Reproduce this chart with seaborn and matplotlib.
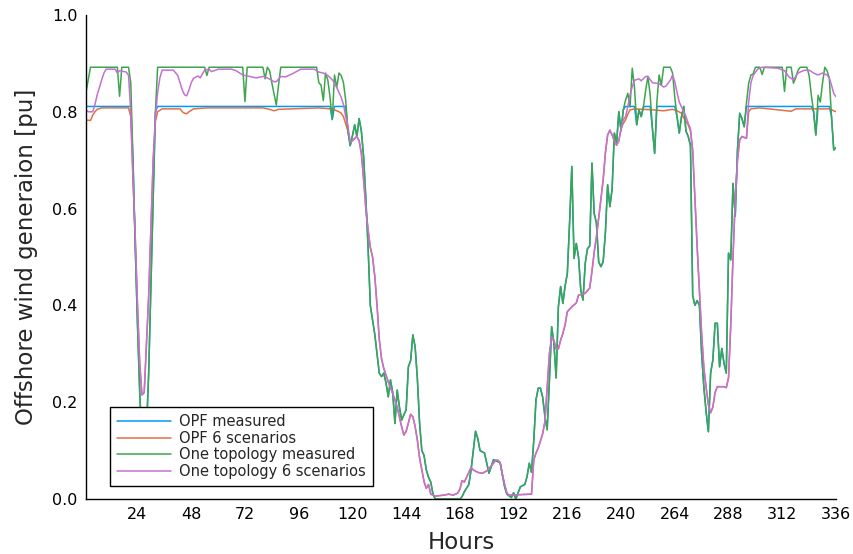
import matplotlib
matplotlib.use("Agg")
import matplotlib.pyplot as plt
import seaborn as sns
import pandas as pd

# (hour, value in pu)
opf_measured = [
    (1, 0.811), (21, 0.811), (22, 0.70), (23, 0.52), (24, 0.36), (25, 0.22), (26, 0.12),
    (27, 0.10), (28, 0.14), (29, 0.26), (30, 0.44), (31, 0.62), (32, 0.80), (33, 0.811),
    (110, 0.811), (111, 0.784), (112, 0.811), (117, 0.811), (118, 0.76), (119, 0.73),
    (120, 0.75), (121, 0.773), (122, 0.749), (123, 0.786), (124, 0.76), (125, 0.707),
    (126, 0.62), (127, 0.52), (128, 0.40), (129, 0.37), (130, 0.34), (131, 0.30), (132, 0.26),
    (133, 0.253), (134, 0.26), (135, 0.24), (136, 0.211), (137, 0.246), (138, 0.22),
    (139, 0.156), (140, 0.225), (141, 0.19), (142, 0.163), (143, 0.174), (144, 0.184),
    (145, 0.273), (146, 0.286), (147, 0.339), (148, 0.315), (149, 0.25), (150, 0.157),
    (151, 0.10), (152, 0.09), (153, 0.06), (154, 0.045), (155, 0.035), (156, 0.01), (157, 0.0),
    (168, 0.0), (169, 0.005), (170, 0.015), (172, 0.03), (173, 0.06), (174, 0.10), (175, 0.14),
    (176, 0.125), (177, 0.10), (179, 0.095), (181, 0.053), (183, 0.081), (186, 0.075),
    (188, 0.025), (189, 0.01), (191, 0.003), (192, 0.013), (193, 0.0), (195, 0.025),
    (197, 0.03), (198, 0.046), (199, 0.074), (200, 0.055), (201, 0.12), (202, 0.205),
    (203, 0.229), (204, 0.229), (205, 0.21), (206, 0.17), (207, 0.143), (208, 0.246),
    (209, 0.356), (210, 0.322), (211, 0.25), (212, 0.397), (213, 0.439), (214, 0.404),
    (215, 0.44), (216, 0.466), (217, 0.57), (218, 0.687), (219, 0.497), (220, 0.528),
    (221, 0.50), (222, 0.432), (223, 0.411), (224, 0.487), (225, 0.517), (226, 0.523),
    (227, 0.694), (228, 0.59), (229, 0.57), (230, 0.49), (231, 0.48), (232, 0.49), (233, 0.55),
    (234, 0.649), (235, 0.604), (236, 0.64), (237, 0.756), (238, 0.735), (239, 0.80),
    (240, 0.761), (241, 0.804), (242, 0.811), (246, 0.811), (247, 0.773), (248, 0.804),
    (249, 0.79), (250, 0.81), (251, 0.811), (253, 0.811), (254, 0.766), (255, 0.714),
    (256, 0.811), (264, 0.811), (265, 0.79), (266, 0.756), (267, 0.79), (268, 0.811),
    (269, 0.76), (270, 0.749), (271, 0.73), (272, 0.42), (273, 0.40), (274, 0.41), (275, 0.40),
    (276, 0.30), (277, 0.23), (278, 0.18), (279, 0.139), (280, 0.26), (281, 0.287),
    (282, 0.363), (283, 0.363), (284, 0.273), (285, 0.311), (286, 0.28), (287, 0.26),
    (288, 0.508), (289, 0.494), (290, 0.652), (291, 0.584), (292, 0.721), (293, 0.797),
    (294, 0.786), (295, 0.769), (296, 0.811), (325, 0.811), (326, 0.80), (327, 0.752),
    (328, 0.811), (333, 0.811), (334, 0.79), (335, 0.721), (336, 0.726),
]

opf_scenarios = [
    (1, 0.783), (3, 0.782), (4, 0.793), (5, 0.80), (6, 0.805), (8, 0.808), (20, 0.808),
    (21, 0.79), (22, 0.66), (23, 0.54), (24, 0.40), (25, 0.28), (26, 0.215), (27, 0.22),
    (28, 0.32), (29, 0.42), (30, 0.56), (31, 0.70), (32, 0.78), (33, 0.80), (35, 0.806),
    (43, 0.806), (44, 0.80), (45, 0.797), (46, 0.796), (47, 0.80), (49, 0.806), (55, 0.808),
    (80, 0.808), (83, 0.805), (85, 0.802), (87, 0.805), (105, 0.808), (110, 0.806),
    (112, 0.804), (114, 0.80), (115, 0.797), (116, 0.79), (117, 0.775), (118, 0.76),
    (119, 0.738), (120, 0.74), (121, 0.745), (122, 0.749), (123, 0.74), (124, 0.714),
    (125, 0.66), (126, 0.60), (127, 0.556), (128, 0.52), (129, 0.50), (130, 0.46), (131, 0.40),
    (132, 0.33), (133, 0.29), (134, 0.27), (136, 0.242), (138, 0.218), (140, 0.19),
    (142, 0.149), (143, 0.132), (144, 0.14), (145, 0.157), (146, 0.175), (147, 0.17),
    (148, 0.15), (149, 0.122), (150, 0.085), (151, 0.06), (152, 0.036), (153, 0.022),
    (154, 0.03), (155, 0.01), (157, 0.006), (161, 0.008), (163, 0.01), (165, 0.008),
    (167, 0.012), (168, 0.02), (169, 0.038), (170, 0.035), (171, 0.045), (173, 0.065),
    (174, 0.06), (176, 0.055), (178, 0.053), (180, 0.058), (182, 0.068), (184, 0.08),
    (185, 0.08), (186, 0.075), (187, 0.05), (188, 0.03), (189, 0.012), (190, 0.008),
    (200, 0.01), (201, 0.08), (202, 0.095), (203, 0.105), (204, 0.12), (205, 0.135),
    (206, 0.16), (207, 0.23), (208, 0.30), (209, 0.335), (210, 0.328), (211, 0.31),
    (212, 0.31), (213, 0.328), (214, 0.342), (215, 0.36), (216, 0.387), (218, 0.397),
    (220, 0.405), (221, 0.421), (224, 0.425), (226, 0.436), (227, 0.47), (228, 0.51),
    (229, 0.542), (230, 0.58), (231, 0.62), (232, 0.659), (233, 0.715), (234, 0.752),
    (235, 0.762), (236, 0.752), (237, 0.74), (238, 0.731), (239, 0.74), (240, 0.765),
    (241, 0.776), (242, 0.783), (243, 0.795), (244, 0.804), (246, 0.806), (254, 0.804),
    (259, 0.802), (263, 0.805), (265, 0.802), (267, 0.797), (268, 0.787), (270, 0.773),
    (271, 0.76), (272, 0.72), (273, 0.62), (274, 0.52), (275, 0.43), (276, 0.34), (277, 0.27),
    (278, 0.23), (279, 0.195), (280, 0.178), (281, 0.19), (282, 0.22), (283, 0.232),
    (286, 0.232), (287, 0.23), (288, 0.25), (289, 0.36), (290, 0.50), (291, 0.618),
    (292, 0.70), (293, 0.742), (294, 0.749), (296, 0.745), (297, 0.80), (298, 0.806),
    (302, 0.808), (316, 0.801), (318, 0.806), (333, 0.806), (335, 0.802), (336, 0.80),
]

topo_measured = [
    (1, 0.84), (3, 0.892), (15, 0.892), (16, 0.832), (17, 0.892), (20, 0.892), (21, 0.86),
    (22, 0.70), (23, 0.52), (24, 0.36), (25, 0.22), (26, 0.12), (27, 0.10), (28, 0.14),
    (29, 0.26), (30, 0.44), (31, 0.62), (32, 0.80), (33, 0.892), (54, 0.892), (55, 0.875),
    (56, 0.892), (71, 0.892), (72, 0.821), (73, 0.892), (80, 0.892), (81, 0.868), (82, 0.892),
    (83, 0.885), (84, 0.86), (86, 0.814), (87, 0.855), (88, 0.892), (104, 0.892), (105, 0.86),
    (106, 0.855), (107, 0.823), (108, 0.88), (109, 0.866), (110, 0.83), (111, 0.784),
    (112, 0.876), (113, 0.85), (114, 0.88), (115, 0.875), (116, 0.86), (117, 0.824),
    (118, 0.76), (119, 0.73), (120, 0.75), (121, 0.773), (122, 0.749), (123, 0.786),
    (124, 0.76), (125, 0.707), (126, 0.62), (127, 0.52), (128, 0.40), (129, 0.37), (130, 0.34),
    (131, 0.30), (132, 0.26), (133, 0.253), (134, 0.26), (135, 0.24), (136, 0.211),
    (137, 0.246), (138, 0.22), (139, 0.156), (140, 0.225), (141, 0.19), (142, 0.163),
    (143, 0.174), (144, 0.184), (145, 0.273), (146, 0.286), (147, 0.339), (148, 0.315),
    (149, 0.25), (150, 0.157), (151, 0.10), (152, 0.09), (153, 0.06), (154, 0.045),
    (155, 0.035), (156, 0.01), (157, 0.0), (168, 0.0), (169, 0.005), (170, 0.015), (172, 0.03),
    (173, 0.06), (174, 0.10), (175, 0.14), (176, 0.125), (177, 0.10), (179, 0.095),
    (181, 0.053), (183, 0.081), (186, 0.075), (188, 0.025), (189, 0.01), (191, 0.003),
    (192, 0.013), (193, 0.0), (195, 0.025), (197, 0.03), (198, 0.046), (199, 0.074),
    (200, 0.055), (201, 0.12), (202, 0.205), (203, 0.229), (204, 0.229), (205, 0.21),
    (206, 0.17), (207, 0.143), (208, 0.246), (209, 0.356), (210, 0.322), (211, 0.25),
    (212, 0.397), (213, 0.439), (214, 0.404), (215, 0.44), (216, 0.466), (217, 0.57),
    (218, 0.687), (219, 0.497), (220, 0.528), (221, 0.50), (222, 0.432), (223, 0.411),
    (224, 0.487), (225, 0.517), (226, 0.523), (227, 0.694), (228, 0.59), (229, 0.57),
    (230, 0.49), (231, 0.48), (232, 0.49), (233, 0.55), (234, 0.649), (235, 0.604),
    (236, 0.64), (237, 0.756), (238, 0.735), (239, 0.80), (240, 0.761), (241, 0.804),
    (242, 0.824), (243, 0.838), (244, 0.81), (245, 0.89), (246, 0.85), (247, 0.773),
    (248, 0.804), (249, 0.79), (250, 0.81), (251, 0.845), (252, 0.873), (253, 0.835),
    (254, 0.766), (255, 0.714), (256, 0.82), (257, 0.876), (258, 0.855), (259, 0.892),
    (262, 0.892), (263, 0.88), (264, 0.83), (265, 0.79), (266, 0.756), (267, 0.79),
    (268, 0.811), (269, 0.76), (270, 0.749), (271, 0.73), (272, 0.42), (273, 0.40),
    (274, 0.41), (275, 0.40), (276, 0.30), (277, 0.23), (278, 0.18), (279, 0.139),
    (280, 0.26), (281, 0.287), (282, 0.363), (283, 0.363), (284, 0.273), (285, 0.311),
    (286, 0.28), (287, 0.26), (288, 0.508), (289, 0.494), (290, 0.652), (291, 0.584),
    (292, 0.721), (293, 0.797), (294, 0.786), (295, 0.769), (296, 0.818), (297, 0.859),
    (298, 0.876), (299, 0.878), (300, 0.892), (302, 0.892), (303, 0.877), (304, 0.892),
    (312, 0.892), (313, 0.842), (314, 0.892), (316, 0.892), (317, 0.859), (318, 0.87),
    (319, 0.885), (320, 0.892), (323, 0.892), (324, 0.875), (325, 0.834), (326, 0.80),
    (327, 0.752), (328, 0.834), (329, 0.82), (330, 0.86), (331, 0.892), (332, 0.885),
    (333, 0.87), (334, 0.79), (335, 0.721), (336, 0.726),
]

topo_scenarios = [
    (1, 0.804), (2, 0.80), (4, 0.80), (5, 0.815), (6, 0.835), (7, 0.85), (8, 0.866),
    (9, 0.88), (10, 0.888), (14, 0.888), (15, 0.88), (16, 0.885), (19, 0.882), (20, 0.875),
    (21, 0.80), (22, 0.66), (23, 0.54), (24, 0.40), (25, 0.28), (26, 0.215), (27, 0.22),
    (28, 0.32), (29, 0.42), (30, 0.56), (31, 0.70), (32, 0.79), (33, 0.84), (34, 0.87),
    (35, 0.886), (40, 0.886), (42, 0.875), (43, 0.86), (44, 0.845), (45, 0.835), (46, 0.833),
    (47, 0.845), (48, 0.86), (49, 0.869), (51, 0.874), (52, 0.87), (54, 0.886), (56, 0.888),
    (57, 0.883), (59, 0.886), (60, 0.888), (66, 0.888), (68, 0.885), (71, 0.876), (73, 0.874),
    (75, 0.872), (77, 0.87), (80, 0.873), (82, 0.87), (84, 0.865), (85, 0.862), (86, 0.862),
    (88, 0.873), (90, 0.872), (93, 0.878), (97, 0.888), (103, 0.888), (105, 0.882),
    (107, 0.88), (109, 0.875), (111, 0.866), (112, 0.86), (113, 0.85), (114, 0.84),
    (115, 0.83), (116, 0.815), (117, 0.79), (118, 0.77), (119, 0.738), (120, 0.74),
    (121, 0.745), (122, 0.749), (123, 0.74), (124, 0.714), (125, 0.66), (126, 0.60),
    (127, 0.556), (128, 0.52), (129, 0.50), (130, 0.46), (131, 0.40), (132, 0.33), (133, 0.29),
    (134, 0.27), (136, 0.242), (138, 0.218), (140, 0.19), (142, 0.149), (143, 0.132),
    (144, 0.14), (145, 0.157), (146, 0.175), (147, 0.17), (148, 0.15), (149, 0.122),
    (150, 0.085), (151, 0.06), (152, 0.036), (153, 0.022), (154, 0.03), (155, 0.01),
    (157, 0.006), (161, 0.008), (163, 0.01), (165, 0.008), (167, 0.012), (168, 0.02),
    (169, 0.038), (170, 0.035), (171, 0.045), (173, 0.065), (174, 0.06), (176, 0.055),
    (178, 0.053), (180, 0.058), (182, 0.068), (184, 0.08), (185, 0.08), (186, 0.075),
    (187, 0.05), (188, 0.03), (189, 0.012), (190, 0.008), (200, 0.01), (201, 0.08),
    (202, 0.095), (203, 0.105), (204, 0.12), (205, 0.135), (206, 0.16), (207, 0.23),
    (208, 0.30), (209, 0.335), (210, 0.328), (211, 0.31), (212, 0.31), (213, 0.328),
    (214, 0.342), (215, 0.36), (216, 0.387), (218, 0.397), (220, 0.405), (221, 0.421),
    (224, 0.425), (226, 0.436), (227, 0.47), (228, 0.51), (229, 0.542), (230, 0.58),
    (231, 0.62), (232, 0.659), (233, 0.715), (234, 0.752), (235, 0.762), (236, 0.752),
    (237, 0.74), (238, 0.731), (239, 0.74), (240, 0.765), (241, 0.783), (242, 0.79),
    (243, 0.81), (244, 0.835), (245, 0.852), (246, 0.865), (248, 0.868), (249, 0.864),
    (251, 0.873), (252, 0.873), (254, 0.86), (257, 0.858), (259, 0.851), (260, 0.853),
    (262, 0.865), (263, 0.876), (264, 0.862), (265, 0.84), (266, 0.82), (267, 0.81),
    (269, 0.79), (270, 0.776), (271, 0.765), (272, 0.72), (273, 0.62), (274, 0.52),
    (275, 0.43), (276, 0.34), (277, 0.27), (278, 0.23), (279, 0.195), (280, 0.178),
    (281, 0.19), (282, 0.22), (283, 0.232), (286, 0.232), (287, 0.23), (288, 0.25),
    (289, 0.36), (290, 0.50), (291, 0.618), (292, 0.70), (293, 0.742), (294, 0.749),
    (296, 0.745), (297, 0.82), (298, 0.86), (299, 0.875), (301, 0.888), (303, 0.892),
    (310, 0.89), (313, 0.885), (315, 0.872), (317, 0.866), (319, 0.88), (322, 0.886),
    (324, 0.886), (326, 0.88), (328, 0.876), (330, 0.88), (332, 0.876), (333, 0.87),
    (334, 0.855), (335, 0.838), (336, 0.831),
]

series_names = ["OPF measured", "OPF 6 scenarios", "One topology measured", "One topology 6 scenarios"]
series_data = [opf_measured, opf_scenarios, topo_measured, topo_scenarios]
colors = ["#009AFA", "#E36F47", "#3EA44E", "#C371D2"]
x_ticks = [24, 48, 72, 96, 120, 144, 168, 192, 216, 240, 264, 288, 312, 336]
y_ticks = [0.0, 0.2, 0.4, 0.6, 0.8, 1.0]

rows = []
for name, pts in zip(series_names, series_data):
    for h, v in pts:
        rows.append({"hour": h, "value": v, "series": name})
df = pd.DataFrame(rows)

sns.set_theme(style="white")
plt.rcParams["font.family"] = ["DejaVu Sans"]

fig = plt.figure(figsize=(8.54, 5.54), dpi=100)
ax = fig.add_axes([0.1007, 0.0993, 0.8782, 0.8737])

sns.lineplot(data=df, x="hour", y="value", hue="series", hue_order=series_names,
             palette=dict(zip(series_names, colors)), estimator=None, sort=True,
             linewidth=1.1, ax=ax, legend=False)

ax.set_xlim(1, 336)
ax.set_ylim(0, 1.0)
ax.set_xticks(x_ticks)
ax.set_yticks(y_ticks)
ax.set_yticklabels([f"{t:.1f}" for t in y_ticks])
ax.tick_params(direction="in", length=4, width=1, labelsize=11.5, colors="black", pad=6)
for side in ["top", "right"]:
    ax.spines[side].set_visible(False)
for side in ["left", "bottom"]:
    ax.spines[side].set_color("black")
    ax.spines[side].set_linewidth(1.0)
ax.grid(False)

ax.set_xlabel("Hours", fontsize=16.5, labelpad=6)
ax.set_ylabel("Offshore wind generaion [pu]", fontsize=16.5, labelpad=10)

leg = ax.legend(ax.lines[:4], series_names, loc="lower left", bbox_to_anchor=(0.032, 0.027),
                borderaxespad=0, fontsize=10.5, frameon=True, fancybox=False, framealpha=1,
                edgecolor="black", handlelength=3.7, labelspacing=0.1, borderpad=0.5,
                handletextpad=0.5)
leg.get_frame().set_linewidth(1.0)

fig.savefig("out.png", dpi=100)
